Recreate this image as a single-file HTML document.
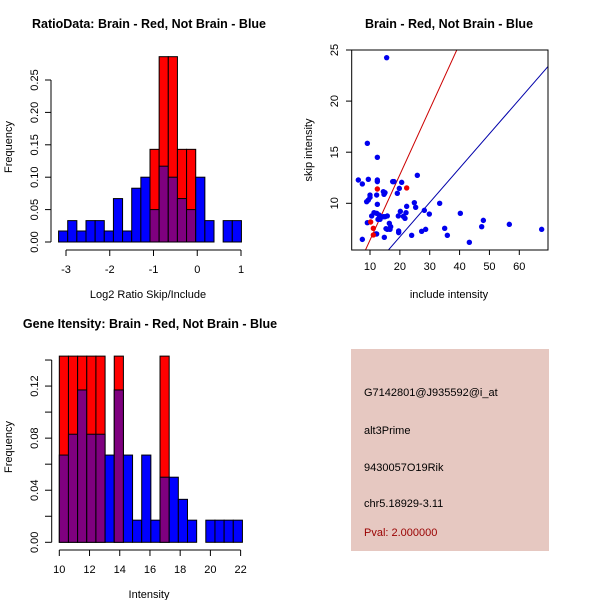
<!DOCTYPE html>
<html><head><meta charset="utf-8"><style>
body{margin:0;background:#fff;}
svg{display:block;font-family:"Liberation Sans",sans-serif;}
</style></head><body>
<svg id="c" width="600" height="600"></svg>
<script>
// Panel 1 data: log2 ratio histogram
const h1Start = -3.17, h1Width = 0.209;
const h1Blue = [0.017,0.033,0.017,0.033,0.033,0.017,0.067,0.017,0.083,0.1,0.05,0.117,0.1,0.067,0.05,0.1,0.033,0,0.033,0.033];
const h1Red  = [0,0,0,0,0,0,0,0,0,0,0.143,0.286,0.286,0.143,0.143,0,0,0,0,0];
const h1XTicks = [-3,-2,-1,0,1];
const h1YTicks = [0,0.05,0.10,0.15,0.20,0.25];
const h1YLabels = ["0.00","0.05","0.10","0.15","0.20","0.25"];
// Panel 2 data: scatter
const blueX = [6.09,7.43,9.44,9.11,12.46,15.58,8.88,9.44,10.0,10.0,12.23,12.46,12.46,12.46,14.47,15.02,14.69,19.15,19.82,17.59,18.04,20.61,25.85,10.56,11.34,12.23,13.01,13.80,14.47,15.02,15.80,12.68,13.35,16.47,16.92,15.36,15.80,16.70,9.11,7.43,12.23,14.80,19.49,20.16,22.06,22.28,21.72,21.16,24.85,25.29,28.20,29.87,33.33,19.60,19.60,23.95,27.30,28.64,35.01,35.90,40.25,43.27,47.40,47.96,56.66,67.49,12.01];
const blueY = [12.28,11.89,12.35,15.87,14.50,24.25,10.16,10.32,10.58,10.81,10.81,12.28,12.12,9.90,11.14,11.04,10.88,10.98,11.46,12.12,12.12,12.05,12.74,8.76,9.08,9.02,8.86,8.69,8.69,8.69,8.76,8.43,8.43,8.04,7.71,7.52,7.45,7.45,8.10,6.47,7.00,6.67,8.76,9.21,9.08,9.70,8.53,8.72,10.06,9.61,9.31,8.95,10.00,7.29,7.13,6.87,7.26,7.45,7.55,6.87,9.02,6.18,7.71,8.33,7.94,7.45,7.00];
const redX = [10.22,11.12,11.12,12.46,22.28];
const redY = [8.17,7.55,6.90,11.40,11.50];
const redSlope = 0.64, blueSlope = 0.336;
const scXTicks = [10,20,30,40,50,60];
const scYTicks = [10,15,20,25];
// Panel 3 data: intensity histogram
const h3Start = 10.0, h3Width = 0.606;
const h3Blue = [0.067,0.083,0.117,0.083,0.083,0.067,0.117,0.067,0.017,0.067,0.017,0.05,0.05,0.033,0.017,0,0.017,0.017,0.017,0.017];
const h3Red  = [0.143,0.143,0.143,0.143,0.143,0,0.143,0,0,0,0,0.143,0,0,0,0,0,0,0,0];
const h3XTicks = [10,12,14,16,18,20,22];
const h3YTicks = [0,0.02,0.04,0.06,0.08,0.10,0.12,0.14];
const h3YLabels = ["0.00","","0.04","","0.08","","0.12",""];

const svg = document.getElementById('c');
const NS = 'http://www.w3.org/2000/svg';
function mk(tag, attrs, parent){const e=document.createElementNS(NS,tag);for(const k in attrs)e.setAttribute(k,attrs[k]);(parent||svg).appendChild(e);return e;}
function txt(x,y,s,size,anchor,rot,parent,weight,fill){const t=mk('text',{x:x,y:y,'font-size':size,'text-anchor':anchor||'middle',fill:fill||'#000'},parent);if(weight)t.setAttribute('font-weight',weight);if(rot)t.setAttribute('transform','rotate(-90 '+x+' '+y+')');t.textContent=s;return t;}

function hist(g, start, width, blue, red, sx, sy, base){
  for(let i=0;i<blue.length;i++){
    const x0=sx(start+i*width), x1=sx(start+(i+1)*width);
    const b=blue[i], r=red[i], top=Math.max(b,r), ov=Math.min(b,r);
    if(top<=0) continue;
    const col = r>b ? '#ff0000' : '#0000ff';
    const outer=mk('rect',{x:x0,y:sy(top),width:x1-x0,height:base-sy(top),fill:col,stroke:'#000','stroke-width':1},g);
    
    
    if(ov>0){
      const p=mk('rect',{x:x0,y:sy(ov),width:x1-x0,height:base-sy(ov),fill:'#7f007f',stroke:'#000','stroke-width':1},g);
      
      
    }
  }
}

// ---- Panel 1 ----
{
  const g=mk('g',{});
  
  
  const sx=v=>66+(v+3)*43.75, sy=v=>242-v*648;
  txt(149,28,'RatioData: Brain - Red, Not Brain - Blue',12.5,'middle',0,g,'bold');
  hist(g,h1Start,h1Width,h1Blue,h1Red,sx,sy,242);
  mk('line',{x1:51,y1:sy(0),x2:51,y2:sy(0.25),stroke:'#000'},g);
  h1YTicks.forEach((v,i)=>{mk('line',{x1:45,y1:sy(v),x2:51,y2:sy(v),stroke:'#000'},g);txt(38,sy(v),h1YLabels[i],11,'middle',1,g);});
  mk('line',{x1:sx(-3),y1:250,x2:sx(1),y2:250,stroke:'#000'},g);
  h1XTicks.forEach(v=>{mk('line',{x1:sx(v),y1:250,x2:sx(v),y2:256,stroke:'#000'},g);txt(sx(v),273,String(v),11,'middle',0,g);});
  txt(148,298,'Log2 Ratio Skip/Include',11,'middle',0,g);
  txt(12,147,'Frequency',11,'middle',1,g);
}
// ---- Panel 2 ----
{
  const g=mk('g',{});
  
  
  const sx=v=>370+(v-10)*2.986, sy=v=>50+(25-v)*10.22;
  txt(449,28,'Brain - Red, Not Brain - Blue',12.5,'middle',0,g,'bold');
  const cp=mk('clipPath',{id:'cl'},g);mk('rect',{x:351.7,y:50,width:196.3,height:200},cp);
  const lr=mk('line',{x1:sx(0),y1:sy(0),x2:sx(70),y2:sy(70*redSlope),stroke:'#cc0000','clip-path':'url(#cl)'},g);
  
  const lb=mk('line',{x1:sx(0),y1:sy(0),x2:sx(70),y2:sy(70*blueSlope),stroke:'#0000aa','clip-path':'url(#cl)'},g);
  
  for(let i=0;i<blueX.length;i++){const c=mk('circle',{cx:sx(blueX[i]),cy:sy(blueY[i]),r:2.7,fill:'#0000ee'},g);}
  for(let i=0;i<redX.length;i++){const c=mk('circle',{cx:sx(redX[i]),cy:sy(redY[i]),r:2.7,fill:'#ee0000'},g);}
  mk('rect',{x:351.7,y:50,width:196.3,height:200,fill:'none',stroke:'#000'},g);
  scXTicks.forEach(v=>{mk('line',{x1:sx(v),y1:250,x2:sx(v),y2:255,stroke:'#000'},g);txt(sx(v),270,String(v),11,'middle',0,g);});
  scYTicks.forEach(v=>{mk('line',{x1:346,y1:sy(v),x2:351.7,y2:sy(v),stroke:'#000'},g);txt(338,sy(v),String(v),11,'middle',1,g);});
  txt(449,298,'include intensity',11,'middle',0,g);
  txt(312,150,'skip intensity',11,'middle',1,g);
}
// ---- Panel 3 ----
{
  const g=mk('g',{});
  
  
  const sx=v=>59.3+(v-10)*15.11, sy=v=>542.3-v*1302;
  txt(150,328,'Gene Itensity: Brain - Red, Not Brain - Blue',12.5,'middle',0,g,'bold');
  hist(g,h3Start,h3Width,h3Blue,h3Red,sx,sy,542.3);
  mk('line',{x1:51.7,y1:sy(0),x2:51.7,y2:sy(0.14),stroke:'#000'},g);
  h3YTicks.forEach((v,i)=>{mk('line',{x1:45,y1:sy(v),x2:51.7,y2:sy(v),stroke:'#000'},g);if(h3YLabels[i])txt(38,sy(v),h3YLabels[i],11,'middle',1,g);});
  mk('line',{x1:sx(10),y1:550,x2:sx(22),y2:550,stroke:'#000'},g);
  h3XTicks.forEach(v=>{mk('line',{x1:sx(v),y1:550,x2:sx(v),y2:556,stroke:'#000'},g);txt(sx(v),573,String(v),11,'middle',0,g);});
  txt(149,598,'Intensity',11,'middle',0,g);
  txt(12,447,'Frequency',11,'middle',1,g);
}
// ---- Panel 4 ----
{
  const g=mk('g',{});
  
  
  mk('rect',{x:351,y:349,width:198,height:202,fill:'#e6c8c1'},g);
  const lines=[['G7142801@J935592@i_at',396,'#000'],['alt3Prime',434,'#000'],['9430057O19Rik',471,'#000'],['chr5.18929-3.11',507,'#000'],['Pval: 2.000000',536,'#990000']];
  lines.forEach(l=>txt(364,l[1],l[0],11,'start',0,g,null,l[2]));
}
</script>
</body></html>
